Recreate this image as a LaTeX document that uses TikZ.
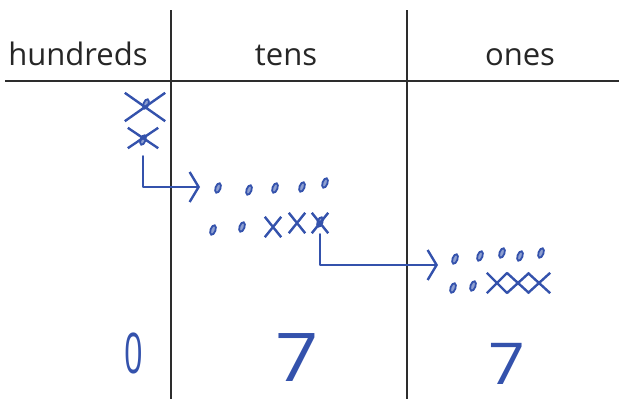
\documentclass[tikz,border=0pt]{standalone}
\usepackage{fontspec}
\setmainfont{Open Sans}
\usetikzlibrary{positioning,shapes.geometric,shapes.misc,arrows.meta}
\definecolor{penblue}{RGB}{52,82,172}
\definecolor{ruleblack}{RGB}{45,45,45}

\begin{document}
\begin{tikzpicture}[x=1pt, y=-1pt,
  rule/.style={draw=ruleblack, line width=1.3pt},
  header/.style={font=\fontsize{31}{36}\selectfont, text=black!85, anchor=base, inner sep=0pt},
  pen/.style={draw=penblue, line width=2.4pt, line cap=round, line join=round},
  dot/.style={ellipse, draw=penblue, fill=penblue!55, line width=1.8pt, inner sep=0pt, minimum width=5pt, minimum height=10pt, rotate=-20},
  xmark/.style={cross out, draw=penblue, line width=2.4pt, inner sep=0pt, minimum width=14pt, minimum height=18pt},
  digit/.style={text=penblue, anchor=base, inner sep=0pt},
  move/.style={pen, -{Straight Barb[length=9pt, width=30pt]}}]
  \useasboundingbox (0,0) rectangle (619,399);

  % chart
  \draw[rule] (5,81) -- (619,81);
  \draw[rule] (171,10) -- (171,399);
  \draw[rule] (407,10) -- (407,399);
  \node[header] (hundreds) at (78,65) {hundreds};
  \node[header] (tens) at (286,65) {tens};
  \node[header] (ones) at (520,65) {ones};

  % hundreds: two crossed out
  \node[dot] at (146,104) {};
  \node[xmark, minimum width=38pt, minimum height=26pt] (h1) at (145,107) {};
  \node[dot] at (143,140) {};
  \node[xmark, minimum width=28pt, minimum height=18pt] (h2) at (143,138) {};

  % tens
  \foreach \x/\y [count=\i] in {218/188, 249/190, 275/188, 302/187, 325/183, 213/230, 242/227}
    \node[dot] (t\i) at (\x,\y) {};
  \node[xmark] (tx1) at (273,227) {};
  \node[xmark] (tx2) at (297,223) {};
  \node[dot] at (320,222) {};
  \node[xmark] (tx3) at (320,223) {};

  % ones
  \foreach \x/\y [count=\i] in {455/259, 480/256, 502/253, 520/256, 541/253, 453/288, 473/286}
    \node[dot] (o\i) at (\x,\y) {};
  \node[xmark, minimum width=18pt] (ox1) at (497,283) {};
  \node[xmark, minimum width=20pt] (ox2) at (518,283) {};
  \node[xmark, minimum width=20pt] (ox3) at (539,283) {};

  % regrouping
  \coordinate (tens in) at (200,187);
  \coordinate (ones in) at (438,265);
  \draw[move, shorten <=8pt] (h2.south) |- (tens in);
  \draw[move, shorten <=1pt] (tx3.south) |- (ones in);

  % digits
  \node[digit, font=\fontsize{50}{54}\selectfont] (hundredsdigit) at (134,373) {\scalebox{0.65}[1.12]{0}};
  \node[digit, font=\fontsize{56}{60}\selectfont] (tensdigit) at (297,381) {\scalebox{1.35}[1.2]{7}};
  \node[digit, font=\fontsize{56}{60}\selectfont] (onesdigit) at (507,384) {\scalebox{1.15}[1.03]{7}};
\end{tikzpicture}
\end{document}
